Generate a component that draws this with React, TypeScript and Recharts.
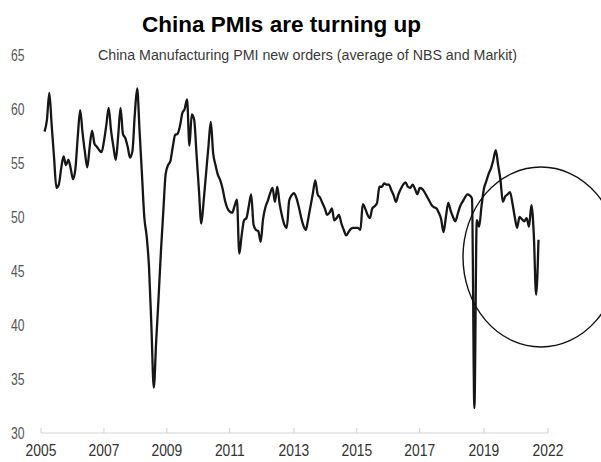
import { LineChart, Line, XAxis, YAxis } from "recharts";

// China Manufacturing PMI new orders, monthly (avg of NBS and Markit)
const pmi2005 = [57.9, 59.0, 61.5, 58.5, 55.5, 52.7, 53.0, 54.5, 55.6, 54.8, 55.3, 54.5];
const pmi2006 = [53.5, 54.5, 57.5, 59.9, 57.8, 56.0, 54.6, 56.5, 58.0, 56.8, 56.5, 56.2];
const pmi2007 = [56.0, 57.0, 58.5, 60.1, 58.0, 56.5, 55.3, 57.5, 60.1, 57.7, 57.3, 56.5];
const pmi2008 = [55.5, 56.1, 59.5, 61.9, 58.0, 54.0, 50.0, 48.2, 45.3, 39.8, 34.2, 38.5];
const pmi2009 = [42.5, 46.8, 50.5, 54.0, 54.8, 55.2, 56.5, 57.6, 57.7, 58.4, 59.6, 60.0];
const pmi2010 = [60.9, 56.6, 59.5, 59.0, 55.8, 52.5, 49.4, 51.5, 54.0, 56.5, 58.8, 55.9];
const pmi2011 = [54.8, 53.9, 53.4, 52.6, 51.5, 50.8, 50.5, 50.4, 51.0, 51.6, 46.6, 48.3];
const pmi2012 = [49.7, 49.9, 51.0, 52.1, 49.3, 48.8, 48.7, 47.7, 49.8, 50.9, 51.5, 52.2];
const pmi2013 = [52.7, 51.4, 52.8, 51.2, 50.1, 49.3, 49.0, 51.5, 52.0, 52.2, 51.8, 51.0];
const pmi2014 = [50.0, 49.2, 48.8, 49.8, 51.0, 52.2, 53.4, 52.1, 51.8, 51.3, 50.8, 50.2];
const pmi2015 = [50.4, 50.8, 49.7, 49.9, 50.2, 49.4, 48.8, 48.3, 48.6, 48.9, 49.0, 49.0];
const pmi2016 = [49.0, 48.8, 51.2, 50.8, 50.2, 49.9, 50.8, 51.0, 51.3, 52.8, 52.8, 53.1];
const pmi2017 = [53.0, 53.0, 52.5, 52.0, 51.4, 52.1, 52.6, 53.0, 53.2, 52.8, 52.7, 53.0];
const pmi2018 = [52.6, 52.1, 52.7, 52.6, 52.3, 51.9, 51.5, 51.1, 50.9, 50.8, 50.4, 49.8];
const pmi2019 = [48.6, 50.0, 51.3, 50.6, 50.0, 49.6, 50.3, 51.0, 51.4, 51.8, 52.1, 52.0];
const pmi2020 = [51.7, 32.3, 49.7, 49.1, 51.0, 52.6, 53.3, 54.0, 54.5, 55.3, 56.2, 54.8];
const pmi2021 = [53.4, 51.4, 51.9, 52.1, 52.3, 51.3, 50.0, 49.0, 50.0, 49.8, 49.6, 49.9];
const pmi2022 = [49.1, 51.1, 48.5, 42.8, 47.9];

const pmiByYear = [
  pmi2005, pmi2006, pmi2007, pmi2008, pmi2009, pmi2010, pmi2011, pmi2012, pmi2013,
  pmi2014, pmi2015, pmi2016, pmi2017, pmi2018, pmi2019, pmi2020, pmi2021, pmi2022,
];

// x-axis: months counted from Jan 2005; labels sit where the source chart put them
const tickMonths = [-1.5, 25, 51.5, 78, 105, 131.5, 158, 185, 212];
const tickLabels = ["2005", "2007", "2009", "2011", "2013", "2015", "2017", "2019", "2022"];
const yTicks = [30, 35, 40, 45, 50, 55, 60, 65];

const data = pmiByYear.flat().map((v, m) => ({ m, v }));

const FONT = "'Liberation Sans', Arial, sans-serif";
const AXIS_Y = 433;

// source uses a narrow face, so squeeze regular sans horizontally
function XTick({ x, payload }: { x?: number; payload?: { value: number } }) {
  const i = tickMonths.indexOf(payload?.value ?? NaN);
  return (
    <g>
      <line x1={x} x2={x} y1={AXIS_Y} y2={AXIS_Y - 5} stroke="#d0d0d0" />
      <text
        transform={`translate(${x},456) scale(0.84,1)`}
        textAnchor="middle"
        fontSize={16.5}
        fontFamily={FONT}
        fill="#333"
      >
        {tickLabels[i]}
      </text>
    </g>
  );
}

function YTick({ y, payload }: { y?: number; payload?: { value: number } }) {
  return (
    <text
      transform={`translate(11,${(y ?? 0) + 5.5}) scale(0.76,1)`}
      textAnchor="start"
      fontSize={16}
      fontFamily={FONT}
      fill="#555"
    >
      {payload?.value}
    </text>
  );
}

export default function App() {
  return (
    <div style={{ position: "fixed", left: 0, top: 0, width: 601, height: 462, background: "#fff" }}>
      <LineChart width={601} height={462} data={data} margin={{ top: 55, right: 53, bottom: 0, left: 0 }}>
        <XAxis
          type="number"
          dataKey="m"
          domain={[-1.5, 212]}
          ticks={tickMonths}
          interval={0}
          height={29}
          axisLine={{ stroke: "#d4d4d4" }}
          tickLine={false}
          tick={(p) => <XTick {...p} />}
        />
        <YAxis
          domain={[30, 65]}
          ticks={yTicks}
          interval={0}
          width={41}
          axisLine={false}
          tickLine={false}
          tick={(p) => <YTick {...p} />}
        />
        <Line
          type="monotone"
          dataKey="v"
          stroke="#161616"
          strokeWidth={2.3}
          dot={false}
          isAnimationActive={false}
        />
      </LineChart>
      <svg
        width={601}
        height={462}
        style={{ position: "absolute", left: 0, top: 0, pointerEvents: "none" }}
      >
        <text
          x={281.5}
          y={32}
          textAnchor="middle"
          fontSize={22.5}
          fontWeight="bold"
          fontFamily={FONT}
          fill="#000"
        >
          China PMIs are turning up
        </text>
        <text
          x={98}
          y={60}
          fontSize={15.5}
          fontFamily={FONT}
          fill="#3a3a3a"
          textLength={419}
          lengthAdjust="spacingAndGlyphs"
        >
          China Manufacturing PMI new orders (average of NBS and Markit)
        </text>
        <ellipse cx={541} cy={257} rx={78} ry={90} fill="none" stroke="#111" strokeWidth={1.4} />
      </svg>
    </div>
  );
}
